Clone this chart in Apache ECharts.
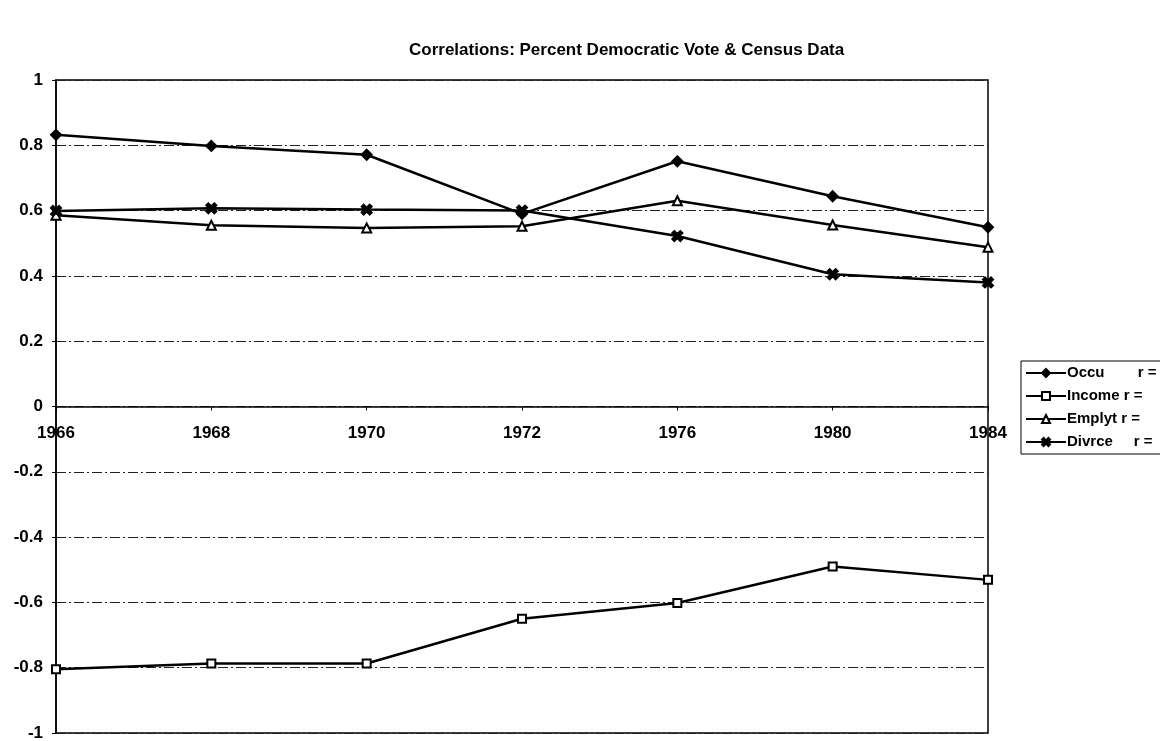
<!DOCTYPE html>
<html>
<head>
<meta charset="utf-8">
<title>Correlations: Percent Democratic Vote & Census Data</title>
<script src="https://cdn.jsdelivr.net/npm/echarts@6/dist/echarts.min.js"></script>
<style>
  html, body { margin: 0; padding: 0; background: #fff; }
  #chart { width: 1160px; height: 741px; }
</style>
</head>
<body>
<div id="chart"></div>
<script>
// Election years (category axis)
const years = ['1966', '1968', '1970', '1972', '1976', '1980', '1984'];

// Correlation of percent Democratic vote with each census measure
const occu   = [0.832, 0.798, 0.771, 0.59, 0.751, 0.644, 0.549];
const income = [-0.805, -0.787, -0.787, -0.65, -0.602, -0.49, -0.531];
const emplyt = [0.586, 0.555, 0.547, 0.552, 0.63, 0.556, 0.488];
const divrce = [0.599, 0.607, 0.603, 0.60, 0.522, 0.405, 0.38];

// Legend labels
const names = ['Occu        r =', 'Income r =', 'Emplyt r =', 'Divrce     r ='];

const FONT = 'Liberation Sans, Arial, sans-serif';
const crossSymbol = 'path://M0,2L2,0L5,3L8,0L10,2L7,5L10,8L8,10L5,7L2,10L0,8L3,5Z';

// Plot frame (pixels)
const GRID_TOP = 80, GRID_BOTTOM = 8, CHART_H = 741;
const Y_MIN = -1, Y_MAX = 1;
const plotH = CHART_H - GRID_TOP - GRID_BOTTOM;
// Shift the category axis up from the bottom edge to the zero line
const zeroOffset = -plotH * (0 - Y_MIN) / (Y_MAX - Y_MIN);

function lineSeries(name, data, symbol, size, fill) {
  return {
    name: name,
    type: 'line',
    data: data,
    symbol: symbol,
    symbolSize: size,
    showAllSymbol: true,
    lineStyle: { color: '#000', width: 2.5 },
    itemStyle: { color: fill, borderColor: '#000', borderWidth: 2 },
    emphasis: { disabled: true },
    z: 5
  };
}

const chart = echarts.init(document.getElementById('chart'), null, { renderer: 'canvas' });
chart.setOption({
  animation: false,
  backgroundColor: '#fff',
  title: {
    text: 'Correlations: Percent Democratic Vote & Census Data',
    left: 404,
    top: 37,
    textStyle: { fontFamily: FONT, fontSize: 17, fontWeight: 'bold', color: '#000' }
  },
  legend: {
    orient: 'vertical',
    left: 1021,
    top: 361,
    itemWidth: 40,
    itemHeight: 10,
    itemGap: 5,
    padding: [3, 60, 3, 4],
    borderColor: '#000',
    borderWidth: 1,
    data: names,
    textStyle: { fontFamily: FONT, fontSize: 15, fontWeight: 'bold', color: '#000', padding: [0, 0, 0, -4], lineHeight: 18 }
  },
  grid: {
    left: 56, right: 172, top: GRID_TOP, bottom: GRID_BOTTOM,
    outerBoundsMode: 'none',
    containLabel: false,
    show: true, borderColor: '#000', borderWidth: 1.5, backgroundColor: 'transparent'
  },
  xAxis: {
    type: 'category',
    data: years,
    boundaryGap: false,
    position: 'bottom',
    offset: zeroOffset,
    axisLine: { onZero: false, lineStyle: { color: '#000', width: 1.5 } },
    axisTick: { show: true, length: 4, lineStyle: { color: '#000' } },
    axisLabel: { margin: 18, fontFamily: FONT, fontSize: 17, fontWeight: 'bold', color: '#000' },
    splitLine: { show: false }
  },
  yAxis: {
    type: 'value',
    min: Y_MIN, max: Y_MAX, interval: 0.2,
    axisLine: { show: true, lineStyle: { color: '#000', width: 1.5 } },
    axisTick: { show: true, length: 4, lineStyle: { color: '#000' } },
    axisLabel: {
      margin: 13, fontFamily: FONT, fontSize: 17, fontWeight: 'bold', color: '#000',
      formatter: v => String(+v.toFixed(1))
    },
    splitLine: { show: true, lineStyle: { color: '#222', width: 1, type: [10, 3, 2, 3] } }
  },
  series: [
    lineSeries(names[0], occu, 'diamond', 10, '#000'),
    lineSeries(names[1], income, 'rect', 8, '#fff'),
    lineSeries(names[2], emplyt, 'triangle', 9, '#fff'),
    lineSeries(names[3], divrce, crossSymbol, 10, '#000')
  ]
});
</script>
</body>
</html>
